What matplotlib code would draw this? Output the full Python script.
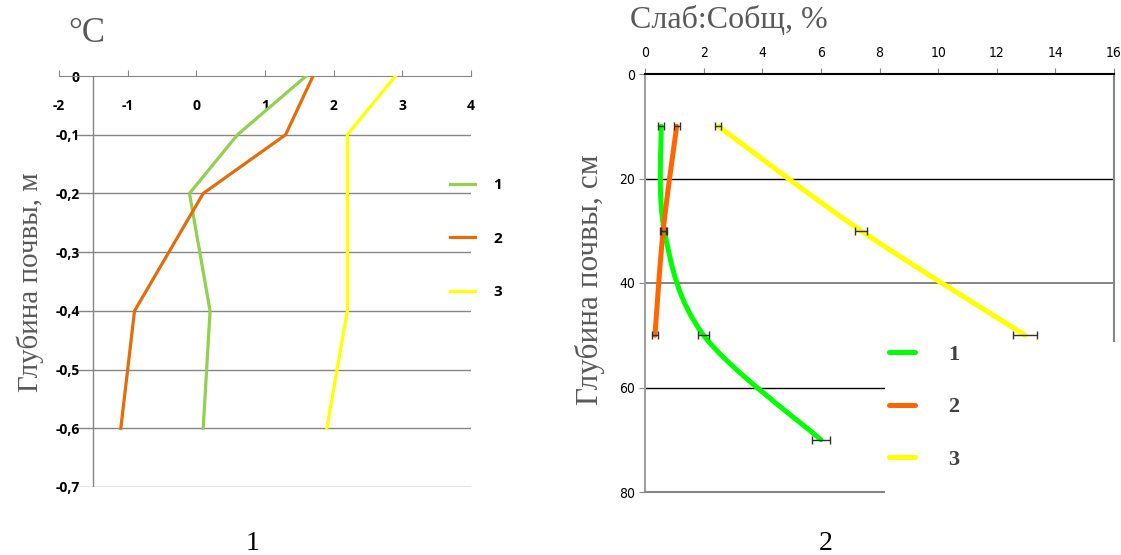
#! /usr/bin/env python3
# -*- coding: utf-8 -*-

import matplotlib
matplotlib.use('Agg')
import matplotlib.pyplot as plt
from matplotlib.path import Path
from matplotlib.patches import PathPatch, Rectangle
from matplotlib.lines import Line2D

# --- панель 1: температура почвы, °C
depth_m = [0, -0.1, -0.2, -0.4, -0.6]
temp_1 = [1.6, 0.6, -0.1, 0.2, 0.1]
temp_2 = [1.7, 1.3, 0.1, -0.9, -1.1]
temp_3 = [2.9, 2.2, 2.2, 2.2, 1.9]
x1_ticks = [-2, -1, 0, 1, 2, 3, 4]
y1_ticks = [0, -0.1, -0.2, -0.3, -0.4, -0.5, -0.6, -0.7]
y1_labels = ['0', '-0,1', '-0,2', '-0,3', '-0,4', '-0,5', '-0,6', '-0,7']

# --- панель 2: Слаб:Собщ, %
depth_1 = [10, 30, 50, 70]
ratio_1 = [0.55, 0.66, 2.0, 6.0]
err_1 = [0.1, 0.1, 0.2, 0.3]
depth_2 = [10, 30, 50]
ratio_2 = [1.08, 0.62, 0.34]
err_2 = [0.1, 0.1, 0.1]
depth_3 = [10, 30, 50]
ratio_3 = [2.5, 7.37, 12.97]
err_3 = [0.1, 0.2, 0.4]
x2_ticks = [0, 2, 4, 6, 8, 10, 12, 14, 16]
y2_ticks = [0, 20, 40, 60, 80]

W, H = 1121, 555
SERIF = 'Liberation Serif'
GRAY = '#595959'
TICK1 = {'family': 'Open Sans', 'weight': 'bold', 'size': 10}
TICK2 = {'family': ['Liberation Sans Narrow', 'DejaVu Sans'],
         'stretch': 'condensed', 'size': 10}


def fx(px):
    return px / W


def fy(py):
    return 1 - py / H


def smooth_path(xs, ys):
    # сглаженная линия как в Excel (кривые Безье)
    pts = list(zip(xs, ys))
    n = len(pts)
    verts = [pts[0]]
    codes = [Path.MOVETO]
    for i in range(n - 1):
        p0 = pts[max(i - 1, 0)]
        p1 = pts[i]
        p2 = pts[i + 1]
        p3 = pts[min(i + 2, n - 1)]
        c1 = (p1[0] + (p2[0] - p0[0]) / 6, p1[1] + (p2[1] - p0[1]) / 6)
        c2 = (p2[0] - (p3[0] - p1[0]) / 6, p2[1] - (p3[1] - p1[1]) / 6)
        verts += [c1, c2, p2]
        codes += [Path.CURVE4] * 3
    return Path(verts, codes)


def panel_1(fig):
    ax = fig.add_axes([fx(59), fy(487), fx(412), 411 / H])
    ax.set_xlim(-2, 4)
    ax.set_ylim(-0.7, 0)
    for s in ['left', 'right', 'bottom']:
        ax.spines[s].set_visible(False)
    ax.spines['top'].set_color('#868686')

    ax.hlines(y1_ticks[1:], -1.77, 4, color='#868686', lw=1, zorder=1)
    ax.vlines(-1.5, -0.7, 0, color='#868686', lw=1, zorder=1)

    ax.plot(temp_1, depth_m, color='#92D050', lw=2.3, label='1', zorder=3)
    ax.plot(temp_2, depth_m, color='#E46C0A', lw=2.3, label='2', zorder=3)
    ax.plot(temp_3, depth_m, color='#FFFF00', lw=2.3, label='3', zorder=3)

    ax.xaxis.tick_top()
    ax.set_xticks(x1_ticks)
    ax.set_xticklabels([str(t) for t in x1_ticks], **TICK1)
    ax.tick_params(axis='x', direction='out', length=4, color='#868686',
                   pad=-31)
    ax.set_yticks(y1_ticks)
    ax.set_yticklabels(y1_labels, **TICK1)
    ax.tick_params(axis='y', length=0, pad=-15)

    ax.legend(loc='upper left', bbox_to_anchor=(fx(450), fy(178)),
              bbox_transform=fig.transFigure, frameon=False,
              borderpad=0, borderaxespad=0, handlelength=1.65,
              handletextpad=1.2, labelspacing=2.6,
              prop={'family': 'Open Sans', 'weight': 'bold', 'size': 11})

    fig.text(fx(87), fy(33), '°C', family=SERIF, size=25, color=GRAY,
             ha='center', va='center')
    fig.text(fx(30), fy(282), 'Глубина почвы, м', family=SERIF, size=21,
             color=GRAY, rotation=90, ha='center', va='center')
    fig.text(fx(253), fy(543), '1', family=SERIF, size=20, color='black',
             ha='center', va='center')


def panel_2(fig):
    ax = fig.add_axes([fx(645), fy(492), fx(469), 418 / H])
    ax.set_xlim(0, 16)
    ax.set_ylim(80, 0)
    ax.spines['top'].set_color('black')
    ax.spines['top'].set_linewidth(1.5)
    ax.spines['left'].set_color('#A0A0A0')
    ax.spines['left'].set_linewidth(1.5)
    ax.spines['bottom'].set_color('#868686')
    ax.spines['bottom'].set_linewidth(1.5)
    ax.spines['right'].set_color('#868686')
    ax.spines['right'].set_linewidth(1.5)

    ax.axhline(20, color='black', lw=1, zorder=1)
    ax.axhline(40, color='#707070', lw=1.2, zorder=1)
    ax.axhline(60, color='black', lw=1, zorder=1)

    # белая подложка легенды закрывает угол графика
    ax.add_patch(Rectangle((8.2, 51.3), 9, 40, facecolor='white',
                           edgecolor='none', clip_on=False, zorder=2.6))

    series = [(ratio_1, depth_1, err_1, '#00FF00'),
              (ratio_2, depth_2, err_2, '#FF6600'),
              (ratio_3, depth_3, err_3, '#FFFF00')]
    for xs, ys, er, c in series:
        ax.add_patch(PathPatch(smooth_path(xs, ys), facecolor='none',
                               edgecolor=c, lw=3.6, zorder=3,
                               capstyle='round'))
        ax.errorbar(xs, ys, xerr=er, fmt='none', ecolor='#303030',
                    elinewidth=1, capsize=3, capthick=1, zorder=4)

    ax.xaxis.tick_top()
    ax.set_xticks(x2_ticks)
    ax.set_xticklabels([str(t) for t in x2_ticks], **TICK2)
    ax.set_yticks(y2_ticks)
    ax.set_yticklabels([str(t) for t in y2_ticks], **TICK2)
    ax.tick_params(axis='x', direction='out', length=4, color='#868686',
                   pad=6)
    ax.tick_params(axis='y', direction='out', length=4, color='#868686',
                   pad=3)

    handles = [Line2D([], [], color=s[3], lw=3.6, solid_capstyle='round')
               for s in series]
    ax.legend(handles, ['1', '2', '3'], loc='upper left',
              bbox_to_anchor=(fx(889), fy(344)),
              bbox_transform=fig.transFigure, frameon=False,
              borderpad=0, borderaxespad=0, handlelength=1.15,
              handletextpad=1.5, labelspacing=1.45,
              prop={'family': SERIF, 'weight': 'bold', 'size': 16})
    for t in ax.get_legend().get_texts():
        t.set_color('#404040')

    fig.text(fx(630), fy(20), 'Слаб:Собщ, %', family=SERIF, size=23,
             color=GRAY, ha='left', va='center')
    fig.text(fx(590), fy(280), 'Глубина почвы, см', family=SERIF, size=22.5,
             color=GRAY, rotation=90, ha='center', va='center')
    fig.text(fx(826), fy(543), '2', family=SERIF, size=20, color='black',
             ha='center', va='center')


def main():
    fig = plt.figure(figsize=(W / 100, H / 100), dpi=100)
    panel_1(fig)
    panel_2(fig)
    fig.savefig('out.png', dpi=100)


if __name__ == '__main__':
    main()
